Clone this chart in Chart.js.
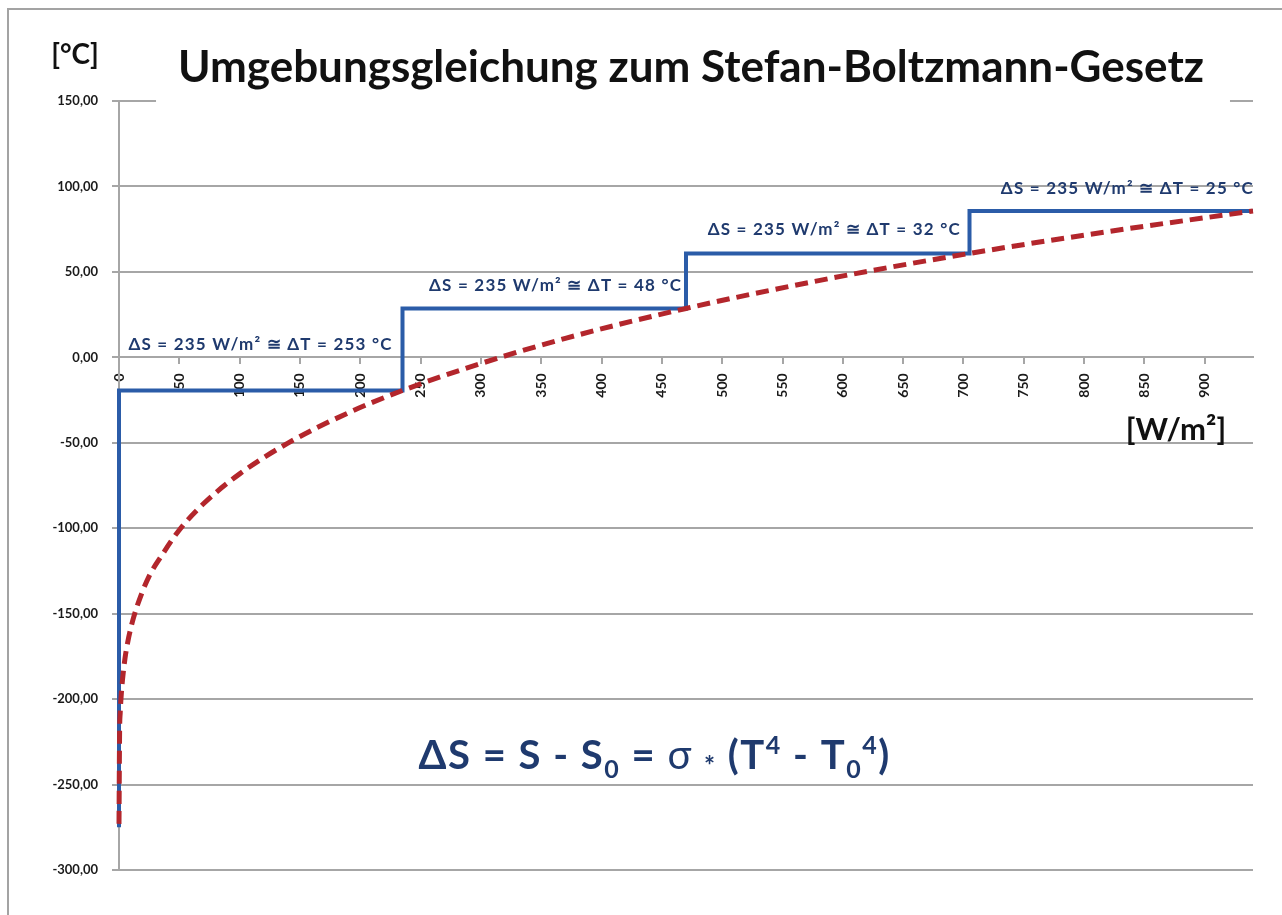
<!DOCTYPE html>
<html lang="de">
<head>
<meta charset="utf-8">
<title>Umgebungsgleichung zum Stefan-Boltzmann-Gesetz</title>
<script src="https://cdn.jsdelivr.net/npm/chart.js@4.4.1/dist/chart.umd.min.js"></script>
<style>
  html, body { margin: 0; padding: 0; background: #fff; overflow: hidden; }
  #rahmen { position: absolute; left: 7px; top: 8px; width: 1290px; height: 920px; border-left: 2px solid #a3a3a3; border-top: 2px solid #a3a3a3; }
  #diagramm { position: absolute; left: 9px; top: 10px; }
</style>
</head>
<body>
<div id="rahmen"></div>
<canvas id="diagramm" width="1273" height="905"></canvas>
<script>
// Kurve: Strahlungsflussdichte S [W/m²] -> Temperatur T [°C]
const kurveS = [0, 0.5, 1, 2, 3, 5, 8, 12, 18, 25, 35, 50, 70, 100, 140, 190, 235, 300, 370, 470, 580, 705, 820, 940];
const kurveT = [-273, -219, -208, -196, -188, -176, -164, -152.5, -139.7, -128, -116.4, -101, -85.7, -68.2, -50.2, -32.5, -19.4, -3.6, 11.1, 28.6, 44.9, 60.8, 73.6, 85.6];

// Treppe: je 235 W/m² eine Stufe
const treppeS = [0, 0, 235, 235, 470, 470, 705, 705, 940];
const treppeT = [-275, -19.4, -19.4, 28.6, 28.6, 60.8, 60.8, 85.6, 85.6];

// Beschriftung der Stufen
const stufenTexte = [
    'ΔS = 235 W/m² ≅ ΔT = 253 °C',
    'ΔS = 235 W/m² ≅ ΔT = 48 °C',
    'ΔS = 235 W/m² ≅ ΔT = 32 °C',
    'ΔS = 235 W/m² ≅ ΔT = 25 °C'
];
const stufenEnde = [226, 466, 697, 940];
const stufenHoehe = [7.5, 42, 75, 99];

// Achsen
const xMin = 0, xMax = 940, xSchritt = 50;
const yMin = -300, yMax = 150, ySchritt = 50;

const titel = 'Umgebungsgleichung zum Stefan-Boltzmann-Gesetz';
const gitterFarbe = '#a6a6a6';
const textBlau = '#1f3a6e';
const schrift = 'Lato, "Open Sans", sans-serif';

// Formel als Stücke (normal, tief, hoch)
const formel = [
    { t: 'ΔS = S - S' }, { t: '0', art: 'tief' }, { t: ' = ' }, { t: 'σ', art: 'duenn' }, { t: ' ' }, { t: '*', art: 'stern' },
    { t: ' (T' }, { t: '4', art: 'hoch' }, { t: ' - T' }, { t: '0', art: 'tief' }, { t: '4', art: 'hoch' }, { t: ')' }
];

function formelSchrift(art) {
    if (art === 'duenn') return '40px ' + schrift;
    if (art === 'stern') return 'bold 26px ' + schrift;
    if (art) return 'bold 25px ' + schrift;
    return 'bold 40px ' + schrift;
}

// Texte auf das Diagramm zeichnen
const beschriftung = {
    id: 'beschriftung',
    afterDraw(chart) {
        const { ctx, chartArea, scales } = chart;
        const x = scales.x, y = scales.y;
        ctx.save();

        // Titel mit weißem Hintergrund (verdeckt die 150er Linie)
        ctx.font = 'bold 44px ' + schrift;
        const tw = ctx.measureText(titel).width;
        const tx = (chartArea.left + chartArea.right) / 2 + 5;
        ctx.fillStyle = '#fff';
        ctx.fillRect(tx - tw / 2 - 22, 30, tw + 48, 75);
        ctx.fillStyle = '#111';
        ctx.textAlign = 'center';
        ctx.textBaseline = 'alphabetic';
        ctx.fillText(titel, tx, 72);

        // Einheiten
        ctx.font = 'bold 28px ' + schrift;
        ctx.fillText('[°C]', 66, 54);
        ctx.font = 'bold 31px ' + schrift;
        ctx.fillText('[W/m²]', 1167, 430);

        // Stufentexte
        ctx.font = 'bold 17px ' + schrift;
        ctx.letterSpacing = '1.2px';
        ctx.fillStyle = textBlau;
        ctx.textAlign = 'right';
        ctx.textBaseline = 'middle';
        stufenTexte.forEach((txt, i) => {
            ctx.fillText(txt, x.getPixelForValue(stufenEnde[i]) + 1, y.getPixelForValue(stufenHoehe[i]));
        });

        // Formel
        ctx.letterSpacing = '1.5px';
        let breite = 0;
        formel.forEach(st => {
            ctx.font = formelSchrift(st.art);
            st.w = ctx.measureText(st.t).width;
            breite += st.w;
        });
        let fx = x.getPixelForValue(444) - breite / 2;
        const fy = y.getPixelForValue(-241);
        ctx.textAlign = 'left';
        ctx.textBaseline = 'alphabetic';
        formel.forEach(st => {
            ctx.font = formelSchrift(st.art);
            let dy = 0;
            if (st.art === 'tief') dy = 9;
            if (st.art === 'hoch') dy = -15;
            if (st.art === 'stern') dy = 6;
            ctx.fillText(st.t, fx, fy + dy);
            fx += st.w;
        });

        ctx.restore();
    }
};

const ctx = document.getElementById('diagramm').getContext('2d');
new Chart(ctx, {
    type: 'scatter',
    data: {
        datasets: [
            {
                label: 'Stefan-Boltzmann',
                data: kurveS.map((s, i) => ({ x: s, y: kurveT[i] })),
                showLine: true,
                borderColor: '#b3262c',
                borderWidth: 5,
                borderDash: [13, 7],
                pointRadius: 0,
                cubicInterpolationMode: 'monotone',
                clip: false,
                order: 0
            },
            {
                label: 'Stufen',
                data: treppeS.map((s, i) => ({ x: s, y: treppeT[i] })),
                showLine: true,
                borderColor: '#2b5ca8',
                borderWidth: 4,
                pointRadius: 0,
                tension: 0,
                clip: false,
                order: 1
            }
        ]
    },
    options: {
        responsive: false,
        animation: false,
        devicePixelRatio: 1,
        layout: { padding: { left: 0, top: 91, right: 29, bottom: 45 } },
        plugins: {
            legend: { display: false },
            tooltip: { enabled: false },
            title: { display: false }
        },
        scales: {
            x: {
                type: 'linear',
                min: xMin,
                max: xMax,
                position: { y: 0 },
                afterBuildTicks: s => { s.ticks = s.ticks.filter(t => t.value % xSchritt === 0); },
                afterFit: s => { s.height = 0; },
                grid: { display: true, drawOnChartArea: false, drawTicks: true, tickLength: 6, color: gitterFarbe, lineWidth: 2 },
                border: { display: true, color: gitterFarbe, width: 2 },
                ticks: {
                    stepSize: xSchritt,
                    minRotation: 90,
                    maxRotation: 90,
                    autoSkip: false,
                    padding: 10,
                    color: '#1a1a1a',
                    font: { family: schrift, size: 14, weight: 'bold' }
                }
            },
            y: {
                type: 'linear',
                min: yMin,
                max: yMax,
                afterFit: s => { s.width = 110; },
                grid: { color: gitterFarbe, lineWidth: 2, tickLength: 7 },
                border: { display: true, color: gitterFarbe, width: 2 },
                ticks: {
                    stepSize: ySchritt,
                    padding: 14,
                    color: '#1a1a1a',
                    font: { family: schrift, size: 13, weight: 'bold' },
                    callback: v => v.toFixed(2).replace('.', ',')
                }
            }
        }
    },
    plugins: [beschriftung]
});
</script>
</body>
</html>
